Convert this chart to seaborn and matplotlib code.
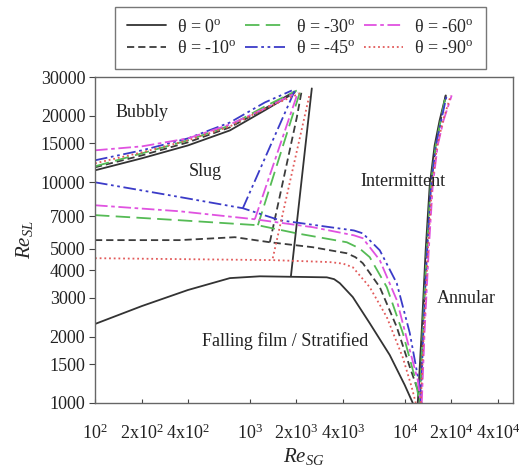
import matplotlib
matplotlib.use('Agg')
import matplotlib.pyplot as plt
import matplotlib.ticker as mticker
import seaborn as sns

thetas = [0, -10, -30, -45, -60, -90]
colors = {0: '#333333', -10: '#3c3c3c', -30: '#55bb55', -45: '#3b3bc8',
          -60: '#e052e0', -90: '#e25a5a'}
dash_styles = {0: None, -10: (4, 2.2), -30: (8, 3.5), -45: (7, 2, 1.5, 2, 1.5, 2),
               -60: (7, 2, 2, 2), -90: (1, 1.6)}

# bubbly / slug boundary
upper_x = {0: [100, 201, 398, 743, 1250, 1950],
           -10: [100, 201, 398, 743, 1250, 1950],
           -30: [100, 201, 398, 743, 1250, 2010],
           -45: [100, 201, 398, 743, 1250, 1867],
           -60: [100, 201, 398, 743, 1250, 1950],
           -90: [100, 201, 398, 743, 1250, 2100]}
upper_y = {0: [11330, 12850, 14690, 17180, 21200, 25520],
           -10: [11690, 13250, 15170, 17740, 21600, 25800],
           -30: [11810, 13530, 15490, 18100, 22070, 26060],
           -45: [12580, 13960, 15810, 18660, 23010, 26060],
           -60: [13960, 14550, 15810, 18280, 21600, 25270],
           -90: [12190, 13670, 15490, 17910, 21600, 25270]}

# slug / intermittent transition
trans_x = {0: [1841, 2512],
           -10: [1346, 2010, 2163],
           -30: [1127, 2102],
           -45: [901, 1950],
           -60: [1077, 2042],
           -90: [1406, 2438]}
trans_y = {0: [3750, 26630],
           -10: [5350, 19680, 26060],
           -30: [6390, 25520],
           -45: [7630, 26060],
           -60: [6800, 25520],
           -90: [4530, 25270]}

# lower boundary (slug / stratified / intermittent)
lower_x = {0: [100, 201, 398, 743, 1161, 3140, 3500, 3810, 4620, 5940, 8000, 10000, 11270],
           -10: [100, 353, 800, 1346, 2548, 4226, 4800, 5360, 6900, 8880, 10770, 12140, 12510],
           -30: [100, 353, 1127, 2010, 4226, 5100, 5940, 7660, 9710, 11610, 12510],
           -45: [100, 305, 901, 1562, 4700, 5360, 6900, 8880, 10770, 12510, 12880],
           -60: [100, 353, 1077, 2548, 4700, 5360, 6900, 8880, 10770, 12140, 12690],
           -90: [100, 1406, 3280, 4000, 4623, 5940, 7660, 9710, 11090, 11780]}
lower_y = {0: [2280, 2750, 3250, 3680, 3750, 3710, 3640, 3490, 3020, 2300, 1650, 1206, 1000],
           -10: [5470, 5470, 5640, 5350, 5080, 4770, 4580, 4300, 3350, 2210, 1460, 1145, 1000],
           -30: [7100, 6730, 6390, 5870, 5350, 5020, 4580, 3350, 2080, 1310, 1000],
           -45: [10000, 8730, 7630, 6730, 6050, 5870, 4920, 3490, 2080, 1180, 1000],
           -60: [7870, 7390, 6800, 6260, 5750, 5580, 4440, 2930, 1740, 1270, 1000],
           -90: [4530, 4440, 4350, 4280, 4120, 3350, 2450, 1610, 1180, 1000]}

# intermittent / annular boundary
annular_y = [1000, 2140, 4920, 9690, 14690, 19080, 24760]
annular_x = {0: [12140, 12880, 13650, 14500, 15600, 16800, 18400],
             -10: [12510, 13060, 13870, 14720, 15850, 17070, 18400],
             -30: [12510, 13060, 13870, 14720, 15850, 17070, 18400],
             -45: [12690, 13200, 13950, 14800, 15900, 17200, 18660],
             -60: [12880, 13450, 14290, 15170, 16330, 17800, 20100],
             -90: [12690, 13300, 14100, 15000, 16200, 17700, 19800]}

region_names = ['Bubbly', 'Slug', 'Intermittent', 'Annular', 'Falling film / Stratified']
region_x = [201, 513, 9800, 25100, 1683]
region_y = [20750, 11220, 10100, 2990, 1910]

xtick_vals = [100, 200, 400, 1000, 2000, 4000, 10000, 20000, 40000]
xtick_labels = [r'$\mathrm{10^2}$', r'$\mathrm{2x10^2}$', r'$\mathrm{4x10^2}$',
                r'$\mathrm{10^3}$', r'$\mathrm{2x10^3}$', r'$\mathrm{4x10^3}$',
                r'$\mathrm{10^4}$', r'$\mathrm{2x10^4}$', r'$\mathrm{4x10^4}$']
ytick_vals = [1000, 1500, 2000, 3000, 4000, 5000, 7000, 10000, 15000, 20000, 30000]

sns.set_style('ticks')
plt.rcParams['font.family'] = ['Liberation Serif', 'DejaVu Serif']
plt.rcParams['mathtext.fontset'] = 'custom'
plt.rcParams['mathtext.rm'] = 'Liberation Serif'
plt.rcParams['mathtext.it'] = 'Liberation Serif:italic'

fig = plt.figure(figsize=(5.19, 4.71), dpi=100)
ax = fig.add_axes([0.183, 0.1444, 0.8054, 0.6921])


def draw(xs, ys, th, label=None):
    kw = dict(color=colors[th], linewidth=1.3)
    if dash_styles[th] is not None:
        kw['dashes'] = dash_styles[th]
    sns.lineplot(x=xs, y=ys, ax=ax, sort=False, estimator=None, label=label, **kw)


for th in thetas:
    lab = r'θ = %d$^\mathrm{o}$' % th
    draw(upper_x[th], upper_y[th], th, label=lab)
    draw(trans_x[th], trans_y[th], th)
    draw(lower_x[th], lower_y[th], th)
    draw(annular_x[th], annular_y, th)

ax.set_xscale('log')
ax.set_yscale('log')
ax.set_xlim(100, 50000)
ax.set_ylim(1000, 30000)
ax.set_xticks(xtick_vals)
ax.set_xticklabels(xtick_labels)
ax.set_yticks(ytick_vals)
ax.set_yticklabels([str(v) for v in ytick_vals])
ax.xaxis.set_minor_locator(mticker.NullLocator())
ax.yaxis.set_minor_locator(mticker.NullLocator())
ax.tick_params(axis='x', direction='in', length=3, labelsize=13, pad=15, colors='#444444',
               labelcolor='#222222')
ax.tick_params(axis='y', direction='out', length=4, labelsize=13, pad=3, colors='#444444',
               labelcolor='#222222')
for s in ax.spines.values():
    s.set_color('#666666')
    s.set_linewidth(1.0)

ax.set_xlabel(r'$Re_{SG}$', fontsize=15, labelpad=2)
ax.set_ylabel(r'$Re_{SL}$', fontsize=15, labelpad=4)

for name, tx, ty in zip(region_names, region_x, region_y):
    ax.text(tx, ty, name, fontsize=13, ha='center', va='center', color='#222222')

handles, labels = ax.get_legend_handles_labels()
ax.legend_.remove()
leg = fig.legend(handles, labels, ncol=3, loc='upper left',
                 bbox_to_anchor=(115 / 519, 1 - 7 / 471), bbox_transform=fig.transFigure,
                 borderaxespad=0, fontsize=13, handlelength=2.2, columnspacing=0.45,
                 handletextpad=0.6, labelspacing=0.25, borderpad=0.65,
                 fancybox=False, frameon=True)
leg.get_frame().set_edgecolor('#555555')
leg.get_frame().set_linewidth(1.0)

fig.savefig('out.png', dpi=100)
